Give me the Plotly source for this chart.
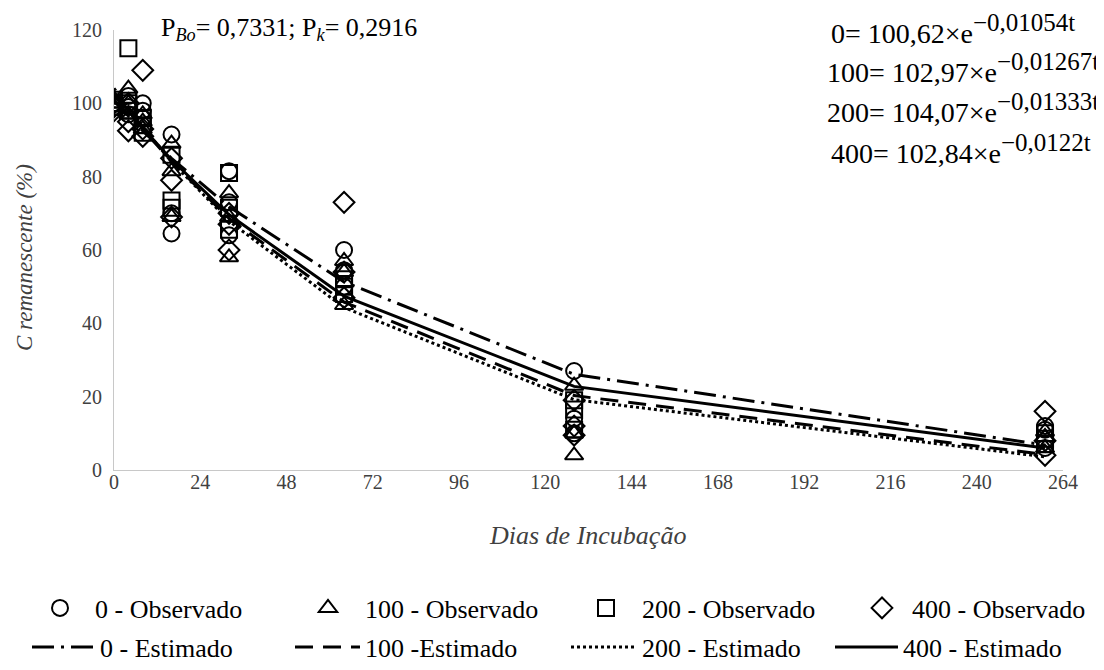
import plotly.graph_objects as go

# Sampling days
days = [0, 4, 8, 16, 32, 64, 128, 259]

obs_0 = [[100, 100, 99], [99, 102, 97], [100, 98, 96], [91.5, 70, 64.5],
         [81.5, 73, 64], [60, 54.5, 50], [27, 14, 10], [12, 11, 6]]
obs_100 = [[100, 101, 99], [104, 100, 97], [97, 95, 93], [89, 81.5, 69],
           [75.5, 69, 58], [57, 54, 45], [23, 10, 4], [10.5, 9, 6]]
obs_200 = [[100, 99, 101], [115, 100, 98], [96, 94, 92], [86, 73.5, 71.5],
           [81, 71.5, 65.5], [52, 50, 48], [19, 16.5, 11], [10, 8.5, 7]]
obs_400 = [[100, 98, 99], [95, 92.5, 100], [109, 91, 93], [79, 85, 69],
           [60, 70, 67], [73, 54, 47], [9.5, 12, 19], [16, 4, 8]]

# Estimated values
est_0 = [100.6, 96.5, 92.5, 85.0, 71.8, 51.3, 26.1, 6.8]
est_100 = [103.0, 97.9, 93.0, 84.1, 68.6, 45.8, 20.3, 4.2]
est_200 = [104.1, 98.7, 93.5, 84.1, 67.9, 44.3, 19.2, 3.6]
est_400 = [102.8, 97.9, 93.3, 84.6, 69.6, 47.4, 22.8, 6.0]

x_ticks = [0, 24, 48, 72, 96, 120, 144, 168, 192, 216, 240, 264]
y_ticks = [0, 20, 40, 60, 80, 100, 120]

FONT = "Liberation Serif"

# The page shows the figure 8 px in from the window's top-left corner.
OFF = 8
PLOT_L, PLOT_R, PLOT_T, PLOT_B = 114, 1063, 30, 470  # window pixels


def px_x(px):
    return (px - PLOT_L) / (PLOT_R - PLOT_L)


def px_y(py):
    return (PLOT_B - py) / (PLOT_B - PLOT_T)


fig = go.Figure()


def flat(obs):
    xs, ys = [], []
    for d, reps in zip(days, obs):
        for v in reps:
            xs.append(d)
            ys.append(v)
    return xs, ys


LEG_SIZE = 26
# name, data, symbol, legend left (window px), item width
obs_sets = [("0 - Observado", obs_0, "circle-open", 25, 60),
            ("100 - Observado", obs_100, "triangle-up-open", 291, 64),
            ("200 - Observado", obs_200, "square-open", 570, 62),
            ("400 - Observado", obs_400, "diamond-open", 852, 50)]
est_sets = [("0 - Estimado", est_0, "22px,7px,3px,7px", 27, 63),
            ("100 -Estimado", est_100, "18px,10px", 290, 65),
            ("200 - Estimado", est_200, "dot", 566, 66),
            ("400 - Estimado", est_400, "solid", 830, 63)]

legends = {}
n = 1
for name, obs, sym, lx, iw in obs_sets:
    key = "legend" if n == 1 else f"legend{n}"
    xs, ys = flat(obs)
    fig.add_trace(go.Scatter(
        x=xs, y=ys, mode="markers", name=name, legend=key,
        marker=dict(symbol=sym, size=16, color="black",
                    line=dict(color="black", width=2)),
    ))
    legends[key] = dict(x=px_x(lx), y=px_y(608), xanchor="left", yanchor="middle",
                        itemwidth=iw, orientation="h",
                        font=dict(family=FONT, size=LEG_SIZE, color="black"),
                        bgcolor="rgba(0,0,0,0)")
    n += 1
for name, est, dash, lx, iw in est_sets:
    key = f"legend{n}"
    fig.add_trace(go.Scatter(
        x=days, y=est, mode="lines", name=name, legend=key,
        line=dict(color="black", width=3, dash=dash),
    ))
    legends[key] = dict(x=px_x(lx), y=px_y(647), xanchor="left", yanchor="middle",
                        itemwidth=iw, orientation="h",
                        font=dict(family=FONT, size=LEG_SIZE, color="black"),
                        bgcolor="rgba(0,0,0,0)")
    n += 1

annotations = [
    dict(text="<i>Dias de Incubação</i>", xref="paper", yref="paper",
         x=px_x(587), y=px_y(535), xanchor="center", yanchor="middle", showarrow=False,
         font=dict(family=FONT, size=26, color="#404040")),
    dict(text="<i>C remanescente (%)</i>", xref="paper", yref="paper",
         x=px_x(24), y=px_y(258), xanchor="center", yanchor="middle", showarrow=False,
         textangle=-90, font=dict(family=FONT, size=23, color="#404040")),
    dict(text="P<sub><i>Bo</i></sub>= 0,7331; P<sub><i>k</i></sub>= 0,2916",
         xref="paper", yref="paper", x=px_x(159), y=px_y(29),
         xanchor="left", yanchor="middle", showarrow=False,
         font=dict(family=FONT, size=26, color="black")),
]
SUP = '<sup><span style="font-size:25px">{}</span></sup>'
eqs = [("0= 100,62×e" + SUP.format("−0,01054t"), 1077, 29),
       ("100= 102,97×e" + SUP.format("−0,01267t"), 1101, 68),
       ("200= 104,07×e" + SUP.format("−0,01333t"), 1101, 108),
       ("400= 102,84×e" + SUP.format("−0,0122t"), 1093, 149)]
for txt, px, py in eqs:
    annotations.append(dict(
        text=txt, xref="paper", yref="paper",
        x=px_x(px), y=px_y(py),
        xanchor="right", yanchor="middle", showarrow=False,
        font=dict(family=FONT, size=28, color="black")))

W, H = 1104 - OFF, 670 - OFF
fig.update_layout(
    width=W, height=H,
    margin=dict(l=PLOT_L - OFF, r=W - (PLOT_R - OFF), t=PLOT_T - OFF,
                b=H - (PLOT_B - OFF), autoexpand=False),
    paper_bgcolor="white", plot_bgcolor="white",
    font=dict(family=FONT, size=19, color="black"),
    showlegend=True,
    annotations=annotations,
    xaxis=dict(range=[0, 264], tickvals=x_ticks, ticktext=[str(v) for v in x_ticks],
               showgrid=False, zeroline=False, showline=True, linecolor="#c8c8c8",
               linewidth=1, ticks="", ticklabelstandoff=-6,
               tickfont=dict(family=FONT, size=20, color="#404040"),
               fixedrange=True),
    yaxis=dict(range=[0, 120], tickvals=y_ticks, ticktext=[str(v) for v in y_ticks],
               showgrid=False, zeroline=False, showline=True, linecolor="#c8c8c8",
               linewidth=1, ticks="", ticklabelstandoff=7,
               tickfont=dict(family=FONT, size=20, color="#404040"),
               fixedrange=True),
    **legends,
)

fig.write_html("out.html")
